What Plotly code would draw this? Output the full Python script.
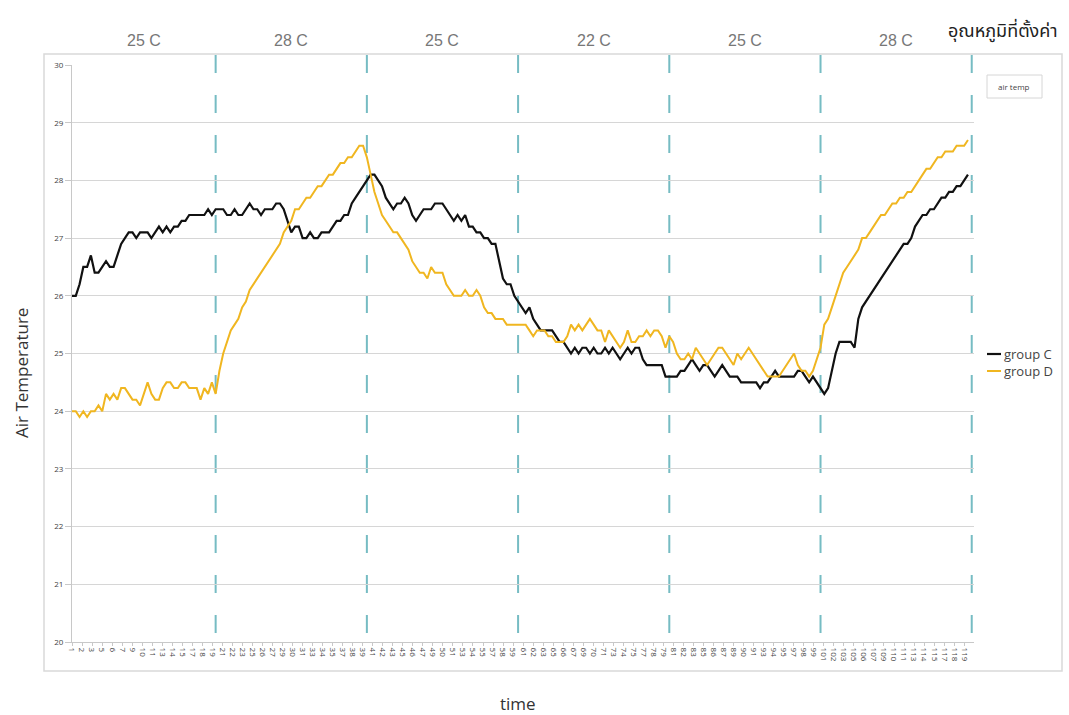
import numpy as np
import plotly.graph_objects as go

# --- data -------------------------------------------------------------------
# sampling every half minute, minutes 1 .. 119.5
TIME = [1 + 0.5 * i for i in range(238)]

GROUP_C = [
    26.0, 26.0, 26.2, 26.5, 26.5, 26.7, 26.4, 26.4, 26.5, 26.6, 26.5, 26.5, 26.7, 26.9, 27.0, 27.1, 27.1, 27.0, 27.1, 27.1,
    27.1, 27.0, 27.1, 27.2, 27.1, 27.2, 27.1, 27.2, 27.2, 27.3, 27.3, 27.4, 27.4, 27.4, 27.4, 27.4, 27.5, 27.4, 27.5, 27.5,
    27.5, 27.4, 27.4, 27.5, 27.4, 27.4, 27.5, 27.6, 27.5, 27.5, 27.4, 27.5, 27.5, 27.5, 27.6, 27.6, 27.5, 27.3, 27.1, 27.2,
    27.2, 27.0, 27.0, 27.1, 27.0, 27.0, 27.1, 27.1, 27.1, 27.2, 27.3, 27.3, 27.4, 27.4, 27.6, 27.7, 27.8, 27.9, 28.0, 28.1,
    28.1, 28.0, 27.9, 27.7, 27.6, 27.5, 27.6, 27.6, 27.7, 27.6, 27.4, 27.3, 27.4, 27.5, 27.5, 27.5, 27.6, 27.6, 27.6, 27.5,
    27.4, 27.3, 27.4, 27.3, 27.4, 27.2, 27.2, 27.1, 27.1, 27.0, 27.0, 26.9, 26.9, 26.6, 26.3, 26.2, 26.2, 26.0, 25.9, 25.8,
    25.7, 25.8, 25.6, 25.5, 25.4, 25.4, 25.4, 25.4, 25.3, 25.2, 25.2, 25.1, 25.0, 25.1, 25.0, 25.1, 25.1, 25.0, 25.1, 25.0,
    25.0, 25.1, 25.0, 25.1, 25.0, 24.9, 25.0, 25.1, 25.0, 25.1, 25.1, 24.9, 24.8, 24.8, 24.8, 24.8, 24.8, 24.6, 24.6, 24.6,
    24.6, 24.7, 24.7, 24.8, 24.9, 24.8, 24.7, 24.8, 24.8, 24.7, 24.6, 24.7, 24.8, 24.7, 24.6, 24.6, 24.6, 24.5, 24.5, 24.5,
    24.5, 24.5, 24.4, 24.5, 24.5, 24.6, 24.7, 24.6, 24.6, 24.6, 24.6, 24.6, 24.7, 24.7, 24.6, 24.5, 24.6, 24.5, 24.4, 24.3,
    24.4, 24.7, 25.0, 25.2, 25.2, 25.2, 25.2, 25.1, 25.6, 25.8, 25.9, 26.0, 26.1, 26.2, 26.3, 26.4, 26.5, 26.6, 26.7, 26.8,
    26.9, 26.9, 27.0, 27.2, 27.3, 27.4, 27.4, 27.5, 27.5, 27.6, 27.7, 27.7, 27.8, 27.8, 27.9, 27.9, 28.0, 28.1,
]

GROUP_D = [
    24.0, 24.0, 23.9, 24.0, 23.9, 24.0, 24.0, 24.1, 24.0, 24.3, 24.2, 24.3, 24.2, 24.4, 24.4, 24.3, 24.2, 24.2, 24.1, 24.3,
    24.5, 24.3, 24.2, 24.2, 24.4, 24.5, 24.5, 24.4, 24.4, 24.5, 24.5, 24.4, 24.4, 24.4, 24.2, 24.4, 24.3, 24.5, 24.3, 24.7,
    25.0, 25.2, 25.4, 25.5, 25.6, 25.8, 25.9, 26.1, 26.2, 26.3, 26.4, 26.5, 26.6, 26.7, 26.8, 26.9, 27.1, 27.2, 27.3, 27.5,
    27.5, 27.6, 27.7, 27.7, 27.8, 27.9, 27.9, 28.0, 28.1, 28.1, 28.2, 28.3, 28.3, 28.4, 28.4, 28.5, 28.6, 28.6, 28.4, 28.1,
    27.8, 27.6, 27.4, 27.3, 27.2, 27.1, 27.1, 27.0, 26.9, 26.8, 26.6, 26.5, 26.4, 26.4, 26.3, 26.5, 26.4, 26.4, 26.4, 26.2,
    26.1, 26.0, 26.0, 26.0, 26.1, 26.0, 26.0, 26.1, 26.0, 25.8, 25.7, 25.7, 25.6, 25.6, 25.6, 25.5, 25.5, 25.5, 25.5, 25.5,
    25.5, 25.4, 25.3, 25.4, 25.4, 25.4, 25.3, 25.3, 25.2, 25.2, 25.2, 25.3, 25.5, 25.4, 25.5, 25.4, 25.5, 25.6, 25.5, 25.4,
    25.4, 25.2, 25.4, 25.3, 25.2, 25.1, 25.2, 25.4, 25.2, 25.2, 25.3, 25.3, 25.4, 25.3, 25.4, 25.4, 25.3, 25.1, 25.3, 25.2,
    25.0, 24.9, 24.9, 25.0, 24.9, 25.1, 25.0, 24.9, 24.8, 24.9, 25.0, 25.1, 25.1, 25.0, 24.9, 24.8, 25.0, 24.9, 25.0, 25.1,
    25.0, 24.9, 24.8, 24.7, 24.6, 24.6, 24.6, 24.6, 24.7, 24.8, 24.9, 25.0, 24.8, 24.7, 24.7, 24.6, 24.7, 24.9, 25.1, 25.5,
    25.6, 25.8, 26.0, 26.2, 26.4, 26.5, 26.6, 26.7, 26.8, 27.0, 27.0, 27.1, 27.2, 27.3, 27.4, 27.4, 27.5, 27.6, 27.6, 27.7,
    27.7, 27.8, 27.8, 27.9, 28.0, 28.1, 28.2, 28.2, 28.3, 28.4, 28.4, 28.5, 28.5, 28.5, 28.6, 28.6, 28.6, 28.7,
]

# category labels along the time axis (every fourth minute is not labelled)
TICK_LABELS = [str(n) for n in range(1, 120) if n % 4 != 0]
Y_TICKS = list(range(20, 31))

# set-point periods
SETPOINT_BOUNDS = [20, 40, 60, 80, 100, 120]
SETPOINT_CENTERS = [10.5, 30, 50, 70, 90, 110]
SETPOINT_LABELS = ["25 C", "28 C", "25 C", "22 C", "25 C", "28 C"]

# --- layout geometry (pixels) ----------------------------------------------
W, H = 1069, 715
L, R, T, B = 72, 974, 65, 642


def fx(p):
    return (p - L) / (R - L)


def fy(p):
    return (B - p) / (B - T)


LABEL_FONT = "Liberation Sans, Arial, sans-serif"
SMALL_FONT = "Open Sans, Liberation Sans, sans-serif"
THAI_FONT = "Noto Sans Thai, Noto Sans Thai Looped, Loma, Garuda, Tlwg Typo, Noto Sans, sans-serif"

C_COLOR = "#111111"
D_COLOR = "#f0b620"
DASH_COLOR = "#76bcc3"

fig = go.Figure()
fig.add_trace(go.Scatter(x=TIME, y=GROUP_C, mode="lines", name="group C",
                         line=dict(color=C_COLOR, width=2.2)))
fig.add_trace(go.Scatter(x=TIME, y=GROUP_D, mode="lines", name="group D",
                         line=dict(color=D_COLOR, width=2)))

shapes = []
# outer chart frame
shapes.append(dict(type="rect", xref="paper", yref="paper",
                   x0=fx(44), x1=fx(1062), y0=fy(671), y1=fy(54),
                   line=dict(color="#d9d9d9", width=1.5), layer="below"))
# set-point change markers
for b in SETPOINT_BOUNDS:
    shapes.append(dict(type="line", xref="x", yref="paper",
                       x0=b, x1=b, y0=fy(55), y1=fy(634),
                       line=dict(color=DASH_COLOR, width=2, dash="18px,22px"),
                       layer="between"))
# small "air temp" box
shapes.append(dict(type="rect", xref="paper", yref="paper",
                   x0=fx(987), x1=fx(1042), y0=fy(98), y1=fy(75),
                   line=dict(color="#d6d6d6", width=1)))
# legend keys
shapes.append(dict(type="line", xref="paper", yref="paper",
                   x0=fx(987), x1=fx(1001), y0=fy(354), y1=fy(354),
                   line=dict(color=C_COLOR, width=2.2)))
shapes.append(dict(type="line", xref="paper", yref="paper",
                   x0=fx(987), x1=fx(1001), y0=fy(371), y1=fy(371),
                   line=dict(color=D_COLOR, width=2)))

annotations = []
for c, lab in zip(SETPOINT_CENTERS, SETPOINT_LABELS):
    annotations.append(dict(x=c, xref="x", y=fy(41), yref="paper", text=lab,
                            showarrow=False, xanchor="center", yanchor="middle",
                            font=dict(family=LABEL_FONT, size=16, color="#777777")))
annotations.append(dict(x=fx(1003), xref="paper", y=fy(31), yref="paper",
                        text="อุณหภูมิที่ตั้งค่า", showarrow=False,
                        xanchor="center", yanchor="middle",
                        font=dict(family=THAI_FONT, size=18, color="#222222")))
annotations.append(dict(x=fx(22), xref="paper", y=fy(373), yref="paper",
                        text="Air Temperature", textangle=-90, showarrow=False,
                        xanchor="center", yanchor="middle",
                        font=dict(family=SMALL_FONT, size=17, color="#333333")))
annotations.append(dict(x=fx(518), xref="paper", y=fy(703), yref="paper",
                        text="time", showarrow=False,
                        xanchor="center", yanchor="middle",
                        font=dict(family=SMALL_FONT, size=17, color="#333333")))
annotations.append(dict(x=fx(1014), xref="paper", y=fy(86), yref="paper",
                        text="air temp", showarrow=False,
                        xanchor="center", yanchor="middle",
                        font=dict(family=SMALL_FONT, size=8, color="#444444")))
annotations.append(dict(x=fx(1002), xref="paper", y=fy(354), yref="paper",
                        text="group C", showarrow=False,
                        xanchor="left", yanchor="middle",
                        font=dict(family=SMALL_FONT, size=13, color="#444444")))
annotations.append(dict(x=fx(1002), xref="paper", y=fy(371), yref="paper",
                        text="group D", showarrow=False,
                        xanchor="left", yanchor="middle",
                        font=dict(family=SMALL_FONT, size=13, color="#444444")))

fig.update_layout(
    width=W, height=H,
    margin=dict(l=L, r=W - R, t=T, b=H - B, pad=0),
    paper_bgcolor="white", plot_bgcolor="white",
    showlegend=False,
    shapes=shapes,
    annotations=annotations,
    xaxis=dict(
        range=[1, 120.3],
        tickmode="array",
        tickvals=list(np.linspace(1, 119, len(TICK_LABELS))),
        ticktext=TICK_LABELS,
        tickangle=90,
        tickfont=dict(family=SMALL_FONT, size=8, color="#444444"),
        ticks="outside", ticklen=3, tickcolor="#c8c8c8",
        showgrid=False, zeroline=False,
        showline=True, linecolor="#c8c8c8", linewidth=1,
    ),
    yaxis=dict(
        range=[20, 30],
        tickmode="array",
        tickvals=Y_TICKS,
        tickfont=dict(family=SMALL_FONT, size=8, color="#444444"),
        ticks="outside", ticklen=6, tickcolor="#c8c8c8",
        showgrid=True, gridcolor="#d6d6d6", gridwidth=1,
        zeroline=False,
        showline=True, linecolor="#c8c8c8", linewidth=1,
    ),
)

fig.write_html("out.html")
